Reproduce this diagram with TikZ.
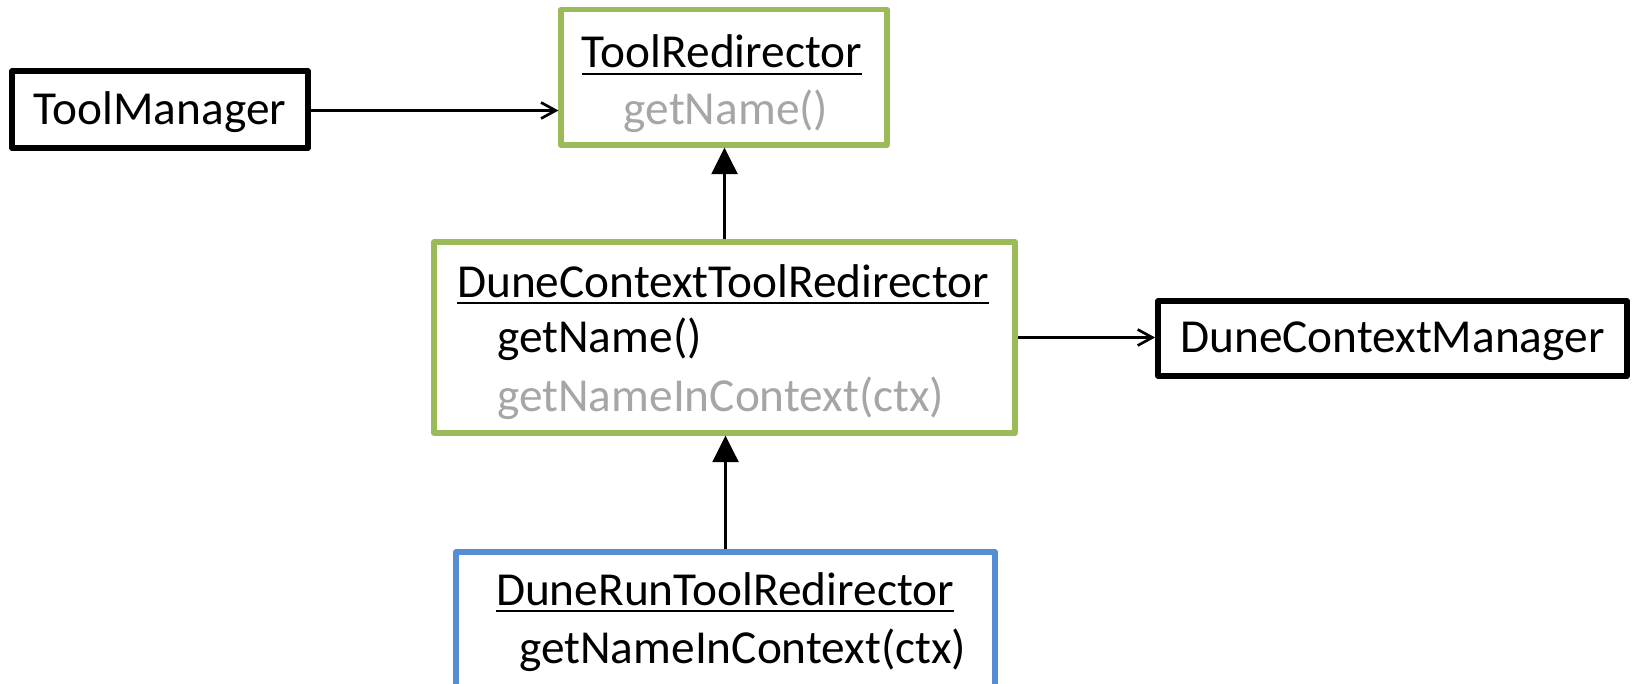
\documentclass[tikz,border=0pt]{standalone}
\usepackage{fontspec}
\setmainfont{Carlito}
\usetikzlibrary{arrows.meta}
\definecolor{boxgreen}{HTML}{9BBB59}
\definecolor{boxblue}{HTML}{558ED5}
\definecolor{inherited}{HTML}{A6A6A6}
\tikzset{
  classbox/.style={draw=boxgreen, line width=3.8pt, line join=round, minimum width=#1, inner sep=0pt},
  plainbox/.style={draw=black, line width=4.3pt, line join=round, inner sep=0pt},
  txt/.style={inner sep=0pt, font=\fontsize{35.5}{42}\selectfont, text=black},
  grey/.style={txt, text=inherited},
  ul/.style={line width=1.5pt, black},
  assoc/.style={line width=2pt, -{Straight Barb[length=11pt,width=12pt,line width=2pt]}},
  inherit/.style={line width=2pt, -{Triangle[length=20pt,width=19.5pt]}},
}
\begin{document}
\begin{tikzpicture}[x=0.75pt, y=-0.75pt]
  \useasboundingbox (0,0) rectangle (1633,684);
  \clip (0,0) rectangle (1633,684);

  % plain boxes
  \node[plainbox, minimum width=296*0.75pt, minimum height=77*0.75pt] (tm) at (160,109.5) {};
  \node[plainbox, minimum width=469*0.75pt, minimum height=75*0.75pt] (dcm) at (1392.5,338.5) {};
  \node[txt, yshift=-3*0.75pt] (tmtext) at (tm.center) {ToolManager};
  \node[txt, yshift=-3*0.75pt] (dcmtext) at (dcm.center) {DuneContextManager};

  % class boxes
  \node[classbox=326*0.75pt, minimum height=135.5*0.75pt] (tr) at (724,77.25) {};
  \node[classbox=581*0.75pt, minimum height=191*0.75pt] (dctr) at (724.5,337.5) {};
  \node[classbox=539*0.75pt, draw=boxblue, minimum height=168*0.75pt] (drun) at (725.5,636) {};

  % ToolRedirector
  \node[txt, anchor=base] (trname) at (722,68) {ToolRedirector};
  \node[grey, anchor=base] (trop) at (726,125) {getName()};

  % DuneContextToolRedirector
  \node[txt, anchor=base] (dctrname) at (723,297) {DuneContextToolRedirector};
  \node[txt, anchor=base west] (dctrop1) at (497,352) {getName()};
  \node[grey, anchor=base west] (dctrop2) at (497,411) {getNameInContext(ctx)};

  % DuneRunToolRedirector
  \node[txt, anchor=base] (drunname) at (725,605) {DuneRunToolRedirector};
  \node[txt, anchor=base west] (drunop) at (519,663) {getNameInContext(ctx)};

  % class name underlines
  \foreach \n in {trname, dctrname, drunname}
    \draw[ul] ([yshift=-6*0.75pt]\n.base west) -- ([yshift=-6*0.75pt]\n.base east);

  % associations
  \draw[assoc] ([yshift=-1*0.75pt]tm.east) -- ([yshift=-1*0.75pt]tm.east -| tr.west);
  \draw[assoc] (dctr.east) -- (dctr.east -| dcm.west);

  % generalisations
  \draw[inherit] (dctr.north) -- (dctr.north |- tr.south);
  \draw[inherit] (drun.north) -- (drun.north |- dctr.south);
\end{tikzpicture}
\end{document}
